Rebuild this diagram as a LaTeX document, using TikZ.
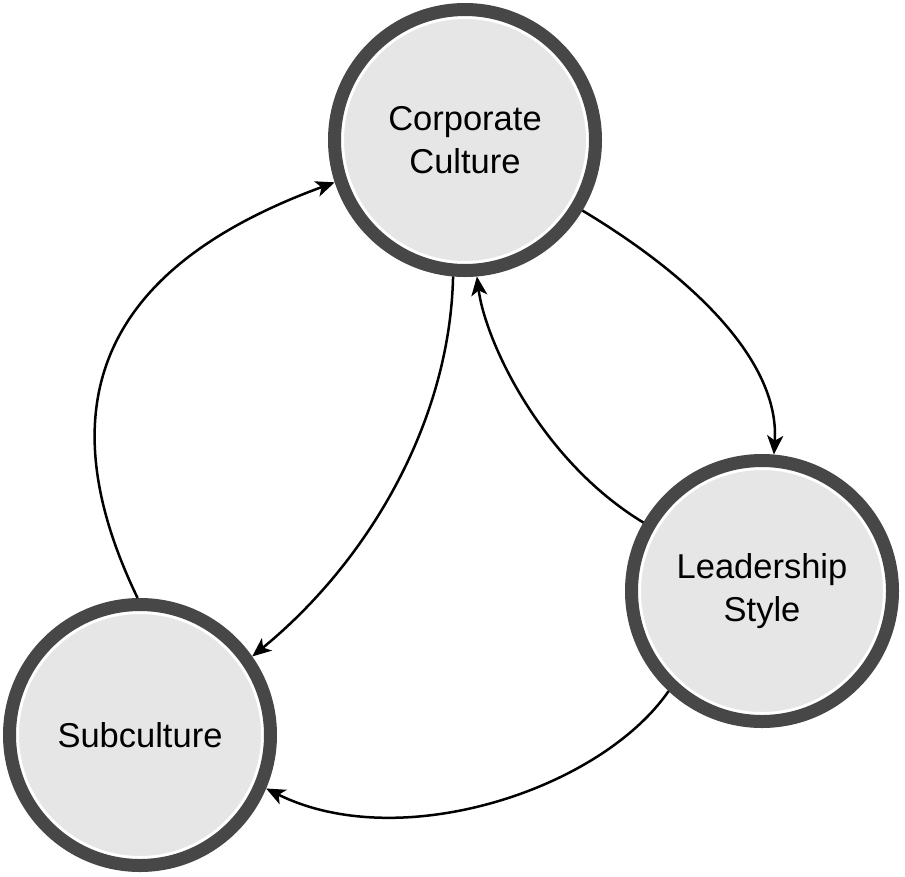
\documentclass[tikz,border=0pt]{standalone}
\usepackage{fontspec}
\setmainfont{Liberation Sans}
\usetikzlibrary{arrows.meta}
\definecolor{ringgrey}{HTML}{474747}
\definecolor{fillgrey}{HTML}{E6E6E6}
\begin{document}
\begin{tikzpicture}[x=1pt,y=-1pt,
  bubble/.style={circle, draw=ringgrey, line width=13pt, fill=fillgrey,
    minimum size=261pt, inner sep=0pt, align=center,
    font=\fontsize{34.5}{43}\selectfont,
    path picture={\draw[white, line width=3pt] (path picture bounding box.center) circle (122.5pt);}},
  conn/.style={line width=2.5pt, black, -{Stealth[length=19pt, width=16pt, inset=5pt]}}]
\useasboundingbox[fill=white] (0,0) rectangle (905,876);
\node[bubble] (corp) at (465,140) {Corporate\\Culture};
\node[bubble] (lead) at (762,591) {Leadership\\Style};
\node[bubble] (sub) at (140,735) {Subculture};
\draw[conn] (sub.91) .. controls (25,365) and (150,250) .. (corp.198);
\draw[conn] (corp.265) .. controls (450,420) and (370,560) .. (sub.35);
\draw[conn] (lead.150) .. controls (540,460) and (485,340) .. (corp.275);
\draw[conn] (corp.329) .. controls (690,275) and (780,360) .. (lead.85);
\draw[conn] (lead.227) .. controls (600,790) and (400,855) .. (sub.337);
\end{tikzpicture}
\end{document}
